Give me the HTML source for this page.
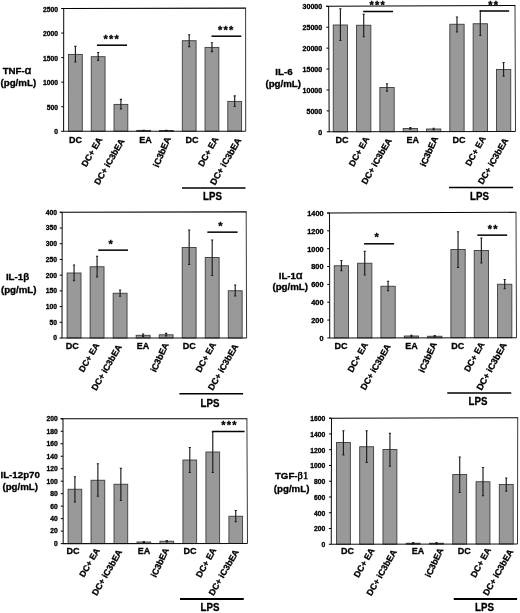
<!DOCTYPE html>
<html lang="en"><head><meta charset="utf-8"><title>Cytokine production figure</title>
<style>
html,body{margin:0;padding:0;background:#fff;}
body{width:520px;height:613px;overflow:hidden;}
svg{display:block;}
text{stroke:#000;stroke-width:0.3px;stroke-linejoin:round;}
</style></head><body>
<svg width="520" height="613" viewBox="0 0 520 613" font-family='"Liberation Sans", sans-serif' font-weight="bold" fill="#000">
<rect x="0" y="0" width="520" height="613" fill="#fff"/>
<g>
<path d="M61.3 8.5L246 8.1" fill="none" stroke="#000" stroke-width="1.1"/>
<path d="M245.6 8.1L245.7 131.2" fill="none" stroke="#222" stroke-width="0.9"/>
<rect x="68.5" y="54.4" width="13.8" height="76.89" fill="#999999" stroke="#3d3d3d" stroke-width="0.9"/>
<path d="M75.4 46.4V62M74.3 46.4H76.5M74.3 62H76.5" stroke="#1c1c1c" stroke-width="1.15" fill="none"/>
<rect x="91.26" y="56.7" width="13.8" height="74.58" fill="#999999" stroke="#3d3d3d" stroke-width="0.9"/>
<path d="M98.16 52.5V60.3M97.06 52.5H99.26M97.06 60.3H99.26" stroke="#1c1c1c" stroke-width="1.15" fill="none"/>
<rect x="114.01" y="104.4" width="13.8" height="26.87" fill="#999999" stroke="#3d3d3d" stroke-width="0.9"/>
<path d="M120.91 99.4V108.8M119.81 99.4H122.01M119.81 108.8H122.01" stroke="#1c1c1c" stroke-width="1.15" fill="none"/>
<rect x="136.77" y="130.4" width="13.8" height="0.86" fill="#999999" stroke="#3d3d3d" stroke-width="0.9"/>
<path d="M143.67 130.2V130.8M142.57 130.2H144.77M142.57 130.8H144.77" stroke="#1c1c1c" stroke-width="1.15" fill="none"/>
<rect x="159.53" y="130.5" width="13.8" height="0.74" fill="#999999" stroke="#3d3d3d" stroke-width="0.9"/>
<path d="M166.43 130.2V130.8M165.33 130.2H167.53M165.33 130.8H167.53" stroke="#1c1c1c" stroke-width="1.15" fill="none"/>
<rect x="182.29" y="40.7" width="13.8" height="90.53" fill="#999999" stroke="#3d3d3d" stroke-width="0.9"/>
<path d="M189.19 34.7V46.6M188.09 34.7H190.29M188.09 46.6H190.29" stroke="#1c1c1c" stroke-width="1.15" fill="none"/>
<rect x="205.04" y="47.4" width="13.8" height="83.82" fill="#999999" stroke="#3d3d3d" stroke-width="0.9"/>
<path d="M211.94 42.7V51.6M210.84 42.7H213.04M210.84 51.6H213.04" stroke="#1c1c1c" stroke-width="1.15" fill="none"/>
<rect x="227.8" y="101.4" width="13.8" height="29.81" fill="#999999" stroke="#3d3d3d" stroke-width="0.9"/>
<path d="M234.7 95.8V106.5M233.6 95.8H235.8M233.6 106.5H235.8" stroke="#1c1c1c" stroke-width="1.15" fill="none"/>
<path d="M63.7 8.5L63.6 131.3L245.7 131.2" stroke="#111" stroke-width="1.05" fill="none" stroke-linejoin="miter"/>
<path d="M61.2 131.3H63.6" stroke="#000" stroke-width="1"/>
<text transform="translate(58.1 134.32) scale(1.07 1)" font-size="6.3" text-anchor="end">0</text>
<path d="M61.22 106.74H63.62" stroke="#000" stroke-width="1"/>
<text transform="translate(58.1 109.76) scale(1.07 1)" font-size="6.3" text-anchor="end">500</text>
<path d="M61.24 82.18H63.64" stroke="#000" stroke-width="1"/>
<text transform="translate(58.1 85.2) scale(1.07 1)" font-size="6.3" text-anchor="end">1000</text>
<path d="M61.26 57.62H63.66" stroke="#000" stroke-width="1"/>
<text transform="translate(58.1 60.64) scale(1.07 1)" font-size="6.3" text-anchor="end">1500</text>
<path d="M61.28 33.06H63.68" stroke="#000" stroke-width="1"/>
<text transform="translate(58.1 36.08) scale(1.07 1)" font-size="6.3" text-anchor="end">2000</text>
<path d="M61.3 8.5H63.7" stroke="#000" stroke-width="1"/>
<text transform="translate(58.1 11.52) scale(1.07 1)" font-size="6.3" text-anchor="end">2500</text>
<text transform="translate(17 74.2) scale(1.07 1)" font-size="9.1" text-anchor="middle">TNF-<tspan font-size="10.6" font-weight="normal" style="stroke-width:0.5px">α</tspan></text>
<text transform="translate(18.3 86.3) scale(1.07 1)" font-size="9.1" text-anchor="middle">(pg/mL)</text>
<path d="M96.9 45.2H127" stroke="#000" stroke-width="1.5"/>
<text x="111.85" y="42.9" font-size="11" text-anchor="middle" letter-spacing="1.2">***</text>
<path d="M211.5 36.2H241.3" stroke="#000" stroke-width="1.5"/>
<text x="226.35" y="33.95" font-size="11" text-anchor="middle" letter-spacing="1.2">***</text>
<text x="75.6" y="143.4" font-size="9" text-anchor="middle">DC</text>
<text x="145.5" y="143.4" font-size="9" text-anchor="middle">EA</text>
<text x="191.9" y="143.4" font-size="9" text-anchor="middle">DC</text>
<text transform="translate(102.62 139.43) rotate(-60)" font-size="8.8" text-anchor="end">DC+ EA</text>
<text transform="translate(124.88 140.88) rotate(-60)" font-size="8.8" text-anchor="end">DC+ iC3bEA</text>
<text transform="translate(171 138.43) rotate(-67)" font-size="9" text-anchor="end">iC3bEA</text>
<text transform="translate(218.75 138.88) rotate(-61)" font-size="8.8" text-anchor="end">DC+ EA</text>
<text transform="translate(241.5 140.05) rotate(-60)" font-size="9" text-anchor="end">DC+ iC3bEA</text>
<path d="M182 188.1H245.5" stroke="#000" stroke-width="1.5"/>
<text transform="translate(212.5 200.15) scale(0.96 1)" font-size="10.1" text-anchor="middle">LPS</text>
</g>
<g>
<path d="M326.2 6.3L515.4 5.5" fill="none" stroke="#000" stroke-width="1.1"/>
<path d="M515 5.5L515.5 131.5" fill="none" stroke="#222" stroke-width="0.9"/>
<rect x="333.25" y="25" width="14.3" height="106.78" fill="#999999" stroke="#3d3d3d" stroke-width="0.9"/>
<path d="M340.4 8.75V40.5M339.3 8.75H341.5M339.3 40.5H341.5" stroke="#1c1c1c" stroke-width="1.15" fill="none"/>
<rect x="356.56" y="25.25" width="14.3" height="106.49" fill="#999999" stroke="#3d3d3d" stroke-width="0.9"/>
<path d="M363.71 14.25V36.75M362.61 14.25H364.81M362.61 36.75H364.81" stroke="#1c1c1c" stroke-width="1.15" fill="none"/>
<rect x="379.88" y="87.5" width="14.3" height="44.21" fill="#999999" stroke="#3d3d3d" stroke-width="0.9"/>
<path d="M387.03 83.75V91.25M385.93 83.75H388.13M385.93 91.25H388.13" stroke="#1c1c1c" stroke-width="1.15" fill="none"/>
<rect x="403.19" y="128.5" width="14.3" height="3.17" fill="#999999" stroke="#3d3d3d" stroke-width="0.9"/>
<path d="M410.34 127.6V129.2M409.24 127.6H411.44M409.24 129.2H411.44" stroke="#1c1c1c" stroke-width="1.15" fill="none"/>
<rect x="426.51" y="129" width="14.3" height="2.63" fill="#999999" stroke="#3d3d3d" stroke-width="0.9"/>
<path d="M433.66 128.2V129.6M432.56 128.2H434.76M432.56 129.6H434.76" stroke="#1c1c1c" stroke-width="1.15" fill="none"/>
<rect x="449.82" y="24.25" width="14.3" height="107.34" fill="#999999" stroke="#3d3d3d" stroke-width="0.9"/>
<path d="M456.97 17V32M455.87 17H458.07M455.87 32H458.07" stroke="#1c1c1c" stroke-width="1.15" fill="none"/>
<rect x="473.14" y="23.75" width="14.3" height="107.81" fill="#999999" stroke="#3d3d3d" stroke-width="0.9"/>
<path d="M480.29 11V35.5M479.19 11H481.39M479.19 35.5H481.39" stroke="#1c1c1c" stroke-width="1.15" fill="none"/>
<rect x="496.45" y="69.5" width="14.3" height="62.02" fill="#999999" stroke="#3d3d3d" stroke-width="0.9"/>
<path d="M503.6 62.5V76.25M502.5 62.5H504.7M502.5 76.25H504.7" stroke="#1c1c1c" stroke-width="1.15" fill="none"/>
<path d="M328.6 6.3L329.2 131.8L515.5 131.5" stroke="#111" stroke-width="1.05" fill="none" stroke-linejoin="miter"/>
<path d="M326.8 131.8H329.2" stroke="#000" stroke-width="1"/>
<text transform="translate(322.2 134.67) scale(1.12 1)" font-size="6.3" text-anchor="end">0</text>
<path d="M326.7 110.88H329.1" stroke="#000" stroke-width="1"/>
<text transform="translate(322.2 113.75) scale(1.12 1)" font-size="6.3" text-anchor="end">5000</text>
<path d="M326.6 89.97H329" stroke="#000" stroke-width="1"/>
<text transform="translate(322.2 92.83) scale(1.12 1)" font-size="6.3" text-anchor="end">10000</text>
<path d="M326.5 69.05H328.9" stroke="#000" stroke-width="1"/>
<text transform="translate(322.2 71.92) scale(1.12 1)" font-size="6.3" text-anchor="end">15000</text>
<path d="M326.4 48.13H328.8" stroke="#000" stroke-width="1"/>
<text transform="translate(322.2 51) scale(1.12 1)" font-size="6.3" text-anchor="end">20000</text>
<path d="M326.3 27.22H328.7" stroke="#000" stroke-width="1"/>
<text transform="translate(322.2 30.08) scale(1.12 1)" font-size="6.3" text-anchor="end">25000</text>
<path d="M326.2 6.3H328.6" stroke="#000" stroke-width="1"/>
<text transform="translate(322.2 9.17) scale(1.12 1)" font-size="6.3" text-anchor="end">30000</text>
<text transform="translate(283.9 74.55) scale(1.07 1)" font-size="9.1" text-anchor="middle">IL-6</text>
<text transform="translate(283.2 86.8) scale(1.07 1)" font-size="9.1" text-anchor="middle">(pg/mL)</text>
<path d="M363.2 11.5H393.05" stroke="#000" stroke-width="1.5"/>
<text x="377.75" y="9.45" font-size="11" text-anchor="middle" letter-spacing="1.2">***</text>
<path d="M480 11H509.2" stroke="#000" stroke-width="1.5"/>
<text x="493.65" y="8.85" font-size="11" text-anchor="middle" letter-spacing="1.2">**</text>
<text x="342.1" y="143.2" font-size="9" text-anchor="middle">DC</text>
<text x="412.8" y="143.2" font-size="9" text-anchor="middle">EA</text>
<text x="458.9" y="143.2" font-size="9" text-anchor="middle">DC</text>
<text transform="translate(369.5 138.7) rotate(-61)" font-size="8.8" text-anchor="end">DC+ EA</text>
<text transform="translate(392.12 140.38) rotate(-60)" font-size="8.8" text-anchor="end">DC+ iC3bEA</text>
<text transform="translate(438.45 137.95) rotate(-66)" font-size="9" text-anchor="end">iC3bEA</text>
<text transform="translate(486 138.25) rotate(-61)" font-size="8.8" text-anchor="end">DC+ EA</text>
<text transform="translate(508.62 140.25) rotate(-60)" font-size="8.8" text-anchor="end">DC+ iC3bEA</text>
<path d="M449 187.6H513.1" stroke="#000" stroke-width="1.5"/>
<text transform="translate(479.5 200.15) scale(0.96 1)" font-size="10.1" text-anchor="middle">LPS</text>
</g>
<g>
<path d="M59.8 212.3L246.6 211.9" fill="none" stroke="#000" stroke-width="1.1"/>
<path d="M246.2 211.9L246.6 338" fill="none" stroke="#222" stroke-width="0.9"/>
<rect x="67.11" y="273" width="13.9" height="65" fill="#999999" stroke="#3d3d3d" stroke-width="0.9"/>
<path d="M74.06 265V280.75M72.96 265H75.16M72.96 280.75H75.16" stroke="#1c1c1c" stroke-width="1.15" fill="none"/>
<rect x="90.13" y="266.75" width="13.9" height="71.25" fill="#999999" stroke="#3d3d3d" stroke-width="0.9"/>
<path d="M97.08 256.25V277M95.98 256.25H98.18M95.98 277H98.18" stroke="#1c1c1c" stroke-width="1.15" fill="none"/>
<rect x="113.15" y="293.25" width="13.9" height="44.75" fill="#999999" stroke="#3d3d3d" stroke-width="0.9"/>
<path d="M120.1 290V296.25M119 290H121.2M119 296.25H121.2" stroke="#1c1c1c" stroke-width="1.15" fill="none"/>
<rect x="136.17" y="335.3" width="13.9" height="2.7" fill="#999999" stroke="#3d3d3d" stroke-width="0.9"/>
<path d="M143.12 334V336.3M142.02 334H144.22M142.02 336.3H144.22" stroke="#1c1c1c" stroke-width="1.15" fill="none"/>
<rect x="159.19" y="334.8" width="13.9" height="3.2" fill="#999999" stroke="#3d3d3d" stroke-width="0.9"/>
<path d="M166.14 333.3V335.9M165.04 333.3H167.24M165.04 335.9H167.24" stroke="#1c1c1c" stroke-width="1.15" fill="none"/>
<rect x="182.21" y="247.5" width="13.9" height="90.5" fill="#999999" stroke="#3d3d3d" stroke-width="0.9"/>
<path d="M189.16 230V264.5M188.06 230H190.26M188.06 264.5H190.26" stroke="#1c1c1c" stroke-width="1.15" fill="none"/>
<rect x="205.23" y="257.5" width="13.9" height="80.5" fill="#999999" stroke="#3d3d3d" stroke-width="0.9"/>
<path d="M212.18 240V275.5M211.08 240H213.28M211.08 275.5H213.28" stroke="#1c1c1c" stroke-width="1.15" fill="none"/>
<rect x="228.25" y="290.75" width="13.9" height="47.25" fill="#999999" stroke="#3d3d3d" stroke-width="0.9"/>
<path d="M235.2 285V296M234.1 285H236.3M234.1 296H236.3" stroke="#1c1c1c" stroke-width="1.15" fill="none"/>
<path d="M62.2 212.3L62 338L246.6 338" stroke="#111" stroke-width="1.05" fill="none" stroke-linejoin="miter"/>
<path d="M59.6 338H62" stroke="#000" stroke-width="1"/>
<text transform="translate(57 340.37) scale(1.07 1)" font-size="6.3" text-anchor="end">0</text>
<path d="M59.62 322.29H62.02" stroke="#000" stroke-width="1"/>
<text transform="translate(57 324.66) scale(1.07 1)" font-size="6.3" text-anchor="end">50</text>
<path d="M59.65 306.57H62.05" stroke="#000" stroke-width="1"/>
<text transform="translate(57 308.94) scale(1.07 1)" font-size="6.3" text-anchor="end">100</text>
<path d="M59.68 290.86H62.08" stroke="#000" stroke-width="1"/>
<text transform="translate(57 293.23) scale(1.07 1)" font-size="6.3" text-anchor="end">150</text>
<path d="M59.7 275.15H62.1" stroke="#000" stroke-width="1"/>
<text transform="translate(57 277.52) scale(1.07 1)" font-size="6.3" text-anchor="end">200</text>
<path d="M59.73 259.44H62.12" stroke="#000" stroke-width="1"/>
<text transform="translate(57 261.81) scale(1.07 1)" font-size="6.3" text-anchor="end">250</text>
<path d="M59.75 243.73H62.15" stroke="#000" stroke-width="1"/>
<text transform="translate(57 246.09) scale(1.07 1)" font-size="6.3" text-anchor="end">300</text>
<path d="M59.78 228.01H62.18" stroke="#000" stroke-width="1"/>
<text transform="translate(57 230.38) scale(1.07 1)" font-size="6.3" text-anchor="end">350</text>
<path d="M59.8 212.3H62.2" stroke="#000" stroke-width="1"/>
<text transform="translate(57 214.67) scale(1.07 1)" font-size="6.3" text-anchor="end">400</text>
<text transform="translate(17.5 280) scale(1.07 1)" font-size="9.1" text-anchor="middle">IL-1β</text>
<text transform="translate(18.7 292.6) scale(1.07 1)" font-size="9.1" text-anchor="middle">(pg/mL)</text>
<path d="M98.2 250.15H128.05" stroke="#000" stroke-width="1.5"/>
<text x="111.3" y="248.05" font-size="11" text-anchor="middle" letter-spacing="1.2">*</text>
<path d="M207.35 232.15H237.6" stroke="#000" stroke-width="1.5"/>
<text x="220.95" y="229.65" font-size="11" text-anchor="middle" letter-spacing="1.2">*</text>
<text x="72.3" y="349" font-size="9" text-anchor="middle">DC</text>
<text x="142.9" y="349" font-size="9" text-anchor="middle">EA</text>
<text x="189.2" y="349" font-size="9" text-anchor="middle">DC</text>
<text transform="translate(99.5 345.12) rotate(-60)" font-size="8.6" text-anchor="end">DC+ EA</text>
<text transform="translate(122.12 346.68) rotate(-60)" font-size="8.8" text-anchor="end">DC+ iC3bEA</text>
<text transform="translate(168.88 344.5) rotate(-65)" font-size="8.8" text-anchor="end">iC3bEA</text>
<text transform="translate(216.25 344.5) rotate(-61)" font-size="8.8" text-anchor="end">DC+ EA</text>
<text transform="translate(238.62 346.25) rotate(-60)" font-size="8.8" text-anchor="end">DC+ iC3bEA</text>
<path d="M179.4 393.75H243.1" stroke="#000" stroke-width="1.5"/>
<text transform="translate(210 406.5) scale(0.96 1)" font-size="10.1" text-anchor="middle">LPS</text>
</g>
<g>
<path d="M327.1 213L516.4 212.3" fill="none" stroke="#000" stroke-width="1.1"/>
<path d="M516 212.3L516.5 337.7" fill="none" stroke="#222" stroke-width="0.9"/>
<rect x="334.25" y="265.75" width="14.3" height="72.14" fill="#999999" stroke="#3d3d3d" stroke-width="0.9"/>
<path d="M341.4 260.5V270.75M340.3 260.5H342.5M340.3 270.75H342.5" stroke="#1c1c1c" stroke-width="1.15" fill="none"/>
<rect x="357.58" y="263.25" width="14.3" height="74.61" fill="#999999" stroke="#3d3d3d" stroke-width="0.9"/>
<path d="M364.73 251.25V275M363.63 251.25H365.83M363.63 275H365.83" stroke="#1c1c1c" stroke-width="1.15" fill="none"/>
<rect x="380.91" y="286.25" width="14.3" height="51.59" fill="#999999" stroke="#3d3d3d" stroke-width="0.9"/>
<path d="M388.06 281.25V290.75M386.96 281.25H389.16M386.96 290.75H389.16" stroke="#1c1c1c" stroke-width="1.15" fill="none"/>
<rect x="404.24" y="336" width="14.3" height="1.81" fill="#999999" stroke="#3d3d3d" stroke-width="0.9"/>
<path d="M411.39 335.3V336.7M410.29 335.3H412.49M410.29 336.7H412.49" stroke="#1c1c1c" stroke-width="1.15" fill="none"/>
<rect x="427.56" y="336.25" width="14.3" height="1.54" fill="#999999" stroke="#3d3d3d" stroke-width="0.9"/>
<path d="M434.71 335.5V336.9M433.61 335.5H435.81M433.61 336.9H435.81" stroke="#1c1c1c" stroke-width="1.15" fill="none"/>
<rect x="450.89" y="249.5" width="14.3" height="88.26" fill="#999999" stroke="#3d3d3d" stroke-width="0.9"/>
<path d="M458.04 231.75V267.5M456.94 231.75H459.14M456.94 267.5H459.14" stroke="#1c1c1c" stroke-width="1.15" fill="none"/>
<rect x="474.22" y="250.5" width="14.3" height="87.24" fill="#999999" stroke="#3d3d3d" stroke-width="0.9"/>
<path d="M481.37 238V263M480.27 238H482.47M480.27 263H482.47" stroke="#1c1c1c" stroke-width="1.15" fill="none"/>
<rect x="497.55" y="284.25" width="14.3" height="53.46" fill="#999999" stroke="#3d3d3d" stroke-width="0.9"/>
<path d="M504.7 279.5V288.75M503.6 279.5H505.8M503.6 288.75H505.8" stroke="#1c1c1c" stroke-width="1.15" fill="none"/>
<path d="M329.5 213L329.75 337.9L516.5 337.7" stroke="#111" stroke-width="1.05" fill="none" stroke-linejoin="miter"/>
<path d="M327.35 337.9H329.75" stroke="#000" stroke-width="1"/>
<text transform="translate(323.5 340.77) scale(1.16 1)" font-size="6.3" text-anchor="end">0</text>
<path d="M327.31 320.06H329.71" stroke="#000" stroke-width="1"/>
<text transform="translate(323.5 322.93) scale(1.16 1)" font-size="6.3" text-anchor="end">200</text>
<path d="M327.28 302.21H329.68" stroke="#000" stroke-width="1"/>
<text transform="translate(323.5 305.08) scale(1.16 1)" font-size="6.3" text-anchor="end">400</text>
<path d="M327.24 284.37H329.64" stroke="#000" stroke-width="1"/>
<text transform="translate(323.5 287.24) scale(1.16 1)" font-size="6.3" text-anchor="end">600</text>
<path d="M327.21 266.53H329.61" stroke="#000" stroke-width="1"/>
<text transform="translate(323.5 269.4) scale(1.16 1)" font-size="6.3" text-anchor="end">800</text>
<path d="M327.17 248.69H329.57" stroke="#000" stroke-width="1"/>
<text transform="translate(323.5 251.55) scale(1.16 1)" font-size="6.3" text-anchor="end">1000</text>
<path d="M327.14 230.84H329.54" stroke="#000" stroke-width="1"/>
<text transform="translate(323.5 233.71) scale(1.16 1)" font-size="6.3" text-anchor="end">1200</text>
<path d="M327.1 213H329.5" stroke="#000" stroke-width="1"/>
<text transform="translate(323.5 215.87) scale(1.16 1)" font-size="6.3" text-anchor="end">1400</text>
<text transform="translate(290.6 278.6) scale(1.07 1)" font-size="9.1" text-anchor="middle">IL-1<tspan font-size="10.6" font-weight="normal" style="stroke-width:0.5px">α</tspan></text>
<text transform="translate(290.2 289.75) scale(1.07 1)" font-size="9.1" text-anchor="middle">(pg/mL)</text>
<path d="M364.1 243.8H394.1" stroke="#000" stroke-width="1.5"/>
<text x="377.3" y="241.45" font-size="11" text-anchor="middle" letter-spacing="1.2">*</text>
<path d="M477.35 235.15H507.2" stroke="#000" stroke-width="1.5"/>
<text x="493.25" y="232.9" font-size="11" text-anchor="middle" letter-spacing="1.2">**</text>
<text x="341" y="348.8" font-size="9" text-anchor="middle">DC</text>
<text x="411.6" y="348.8" font-size="9" text-anchor="middle">EA</text>
<text x="457.8" y="348.8" font-size="9" text-anchor="middle">DC</text>
<text transform="translate(368.25 344.5) rotate(-61)" font-size="8.8" text-anchor="end">DC+ EA</text>
<text transform="translate(391 346.18) rotate(-60)" font-size="8.8" text-anchor="end">DC+ iC3bEA</text>
<text transform="translate(437.05 343.88) rotate(-66)" font-size="9" text-anchor="end">iC3bEA</text>
<text transform="translate(484.75 344.12) rotate(-61)" font-size="8.8" text-anchor="end">DC+ EA</text>
<text transform="translate(507 344.92) rotate(-61)" font-size="9" text-anchor="end">DC+ iC3bEA</text>
<path d="M447.25 393.1H511.25" stroke="#000" stroke-width="1.5"/>
<text transform="translate(478 405.4) scale(0.96 1)" font-size="10.1" text-anchor="middle">LPS</text>
</g>
<g>
<path d="M60.6 418.8L247.3 418.7" fill="none" stroke="#000" stroke-width="1.1"/>
<path d="M246.9 418.7L247.5 543.4" fill="none" stroke="#222" stroke-width="0.9"/>
<rect x="68.05" y="489.25" width="13.7" height="54.34" fill="#999999" stroke="#3d3d3d" stroke-width="0.9"/>
<path d="M74.9 476.75V502M73.8 476.75H76M73.8 502H76" stroke="#1c1c1c" stroke-width="1.15" fill="none"/>
<rect x="91.03" y="480.25" width="13.7" height="63.31" fill="#999999" stroke="#3d3d3d" stroke-width="0.9"/>
<path d="M97.88 463.75V496.25M96.78 463.75H98.98M96.78 496.25H98.98" stroke="#1c1c1c" stroke-width="1.15" fill="none"/>
<rect x="114.01" y="484.25" width="13.7" height="59.29" fill="#999999" stroke="#3d3d3d" stroke-width="0.9"/>
<path d="M120.86 468.25V500.5M119.76 468.25H121.96M119.76 500.5H121.96" stroke="#1c1c1c" stroke-width="1.15" fill="none"/>
<rect x="136.99" y="542" width="13.7" height="1.51" fill="#999999" stroke="#3d3d3d" stroke-width="0.9"/>
<path d="M143.84 541.5V542.6M142.74 541.5H144.94M142.74 542.6H144.94" stroke="#1c1c1c" stroke-width="1.15" fill="none"/>
<rect x="159.96" y="541.25" width="13.7" height="2.24" fill="#999999" stroke="#3d3d3d" stroke-width="0.9"/>
<path d="M166.81 540.5V542M165.71 540.5H167.91M165.71 542H167.91" stroke="#1c1c1c" stroke-width="1.15" fill="none"/>
<rect x="182.94" y="460" width="13.7" height="83.46" fill="#999999" stroke="#3d3d3d" stroke-width="0.9"/>
<path d="M189.79 447.5V472.5M188.69 447.5H190.89M188.69 472.5H190.89" stroke="#1c1c1c" stroke-width="1.15" fill="none"/>
<rect x="205.92" y="452" width="13.7" height="91.44" fill="#999999" stroke="#3d3d3d" stroke-width="0.9"/>
<path d="M212.77 431.75V472.5M211.67 431.75H213.87M211.67 472.5H213.87" stroke="#1c1c1c" stroke-width="1.15" fill="none"/>
<rect x="228.9" y="516.25" width="13.7" height="27.16" fill="#999999" stroke="#3d3d3d" stroke-width="0.9"/>
<path d="M235.75 510.5V521.75M234.65 510.5H236.85M234.65 521.75H236.85" stroke="#1c1c1c" stroke-width="1.15" fill="none"/>
<path d="M63 418.8L63.2 543.6L247.5 543.4" stroke="#111" stroke-width="1.05" fill="none" stroke-linejoin="miter"/>
<path d="M60.8 543.6H63.2" stroke="#000" stroke-width="1"/>
<text transform="translate(57.8 545.97) scale(1.07 1)" font-size="6.3" text-anchor="end">0</text>
<path d="M60.78 531.12H63.18" stroke="#000" stroke-width="1"/>
<text transform="translate(57.8 533.49) scale(1.07 1)" font-size="6.3" text-anchor="end">20</text>
<path d="M60.76 518.64H63.16" stroke="#000" stroke-width="1"/>
<text transform="translate(57.8 521.01) scale(1.07 1)" font-size="6.3" text-anchor="end">40</text>
<path d="M60.74 506.16H63.14" stroke="#000" stroke-width="1"/>
<text transform="translate(57.8 508.53) scale(1.07 1)" font-size="6.3" text-anchor="end">60</text>
<path d="M60.72 493.68H63.12" stroke="#000" stroke-width="1"/>
<text transform="translate(57.8 496.05) scale(1.07 1)" font-size="6.3" text-anchor="end">80</text>
<path d="M60.7 481.2H63.1" stroke="#000" stroke-width="1"/>
<text transform="translate(57.8 483.57) scale(1.07 1)" font-size="6.3" text-anchor="end">100</text>
<path d="M60.68 468.72H63.08" stroke="#000" stroke-width="1"/>
<text transform="translate(57.8 471.09) scale(1.07 1)" font-size="6.3" text-anchor="end">120</text>
<path d="M60.66 456.24H63.06" stroke="#000" stroke-width="1"/>
<text transform="translate(57.8 458.61) scale(1.07 1)" font-size="6.3" text-anchor="end">140</text>
<path d="M60.64 443.76H63.04" stroke="#000" stroke-width="1"/>
<text transform="translate(57.8 446.13) scale(1.07 1)" font-size="6.3" text-anchor="end">160</text>
<path d="M60.62 431.28H63.02" stroke="#000" stroke-width="1"/>
<text transform="translate(57.8 433.65) scale(1.07 1)" font-size="6.3" text-anchor="end">180</text>
<path d="M60.6 418.8H63" stroke="#000" stroke-width="1"/>
<text transform="translate(57.8 421.17) scale(1.07 1)" font-size="6.3" text-anchor="end">200</text>
<text transform="translate(20.2 478.4) scale(1.07 1)" font-size="9.1" text-anchor="middle">IL-12p70</text>
<text transform="translate(20.2 490.4) scale(1.07 1)" font-size="9.1" text-anchor="middle">(pg/mL)</text>
<path d="M212.3 431.5H244.6" stroke="#000" stroke-width="1.5"/>
<text x="229.55" y="429.05" font-size="11" text-anchor="middle" letter-spacing="1.2">***</text>
<text x="72.9" y="554.3" font-size="9" text-anchor="middle">DC</text>
<text x="143.9" y="554.3" font-size="9" text-anchor="middle">EA</text>
<text x="189.9" y="554.3" font-size="9" text-anchor="middle">DC</text>
<text transform="translate(100 550.25) rotate(-60)" font-size="8.6" text-anchor="end">DC+ EA</text>
<text transform="translate(122.5 551.67) rotate(-60)" font-size="8.8" text-anchor="end">DC+ iC3bEA</text>
<text transform="translate(169.2 549.62) rotate(-65)" font-size="8.8" text-anchor="end">iC3bEA</text>
<text transform="translate(216.62 549.92) rotate(-61)" font-size="8.8" text-anchor="end">DC+ EA</text>
<text transform="translate(239.25 551.62) rotate(-60)" font-size="8.8" text-anchor="end">DC+ iC3bEA</text>
<path d="M180 598.9H243.75" stroke="#000" stroke-width="2"/>
<text transform="translate(210 611.2) scale(0.96 1)" font-size="10.1" text-anchor="middle">LPS</text>
</g>
<g>
<path d="M329.1 418.2L518.1 417.7" fill="none" stroke="#000" stroke-width="1.1"/>
<path d="M517.7 417.7L517.5 544" fill="none" stroke="#222" stroke-width="0.9"/>
<rect x="336.45" y="442.5" width="13.9" height="101.73" fill="#999999" stroke="#3d3d3d" stroke-width="0.9"/>
<path d="M343.4 430.75V455M342.3 430.75H344.5M342.3 455H344.5" stroke="#1c1c1c" stroke-width="1.15" fill="none"/>
<rect x="359.71" y="446.75" width="13.9" height="97.45" fill="#999999" stroke="#3d3d3d" stroke-width="0.9"/>
<path d="M366.66 430.75V462.5M365.56 430.75H367.76M365.56 462.5H367.76" stroke="#1c1c1c" stroke-width="1.15" fill="none"/>
<rect x="382.98" y="449.5" width="13.9" height="94.67" fill="#999999" stroke="#3d3d3d" stroke-width="0.9"/>
<path d="M389.93 433.25V466.25M388.83 433.25H391.03M388.83 466.25H391.03" stroke="#1c1c1c" stroke-width="1.15" fill="none"/>
<rect x="406.24" y="543.25" width="13.9" height="0.89" fill="#999999" stroke="#3d3d3d" stroke-width="0.9"/>
<path d="M413.19 542.6V543.8M412.09 542.6H414.29M412.09 543.8H414.29" stroke="#1c1c1c" stroke-width="1.15" fill="none"/>
<rect x="429.51" y="543.25" width="13.9" height="0.86" fill="#999999" stroke="#3d3d3d" stroke-width="0.9"/>
<path d="M436.46 542.6V543.8M435.36 542.6H437.56M435.36 543.8H437.56" stroke="#1c1c1c" stroke-width="1.15" fill="none"/>
<rect x="452.77" y="474.5" width="13.9" height="69.58" fill="#999999" stroke="#3d3d3d" stroke-width="0.9"/>
<path d="M459.72 457V492.5M458.62 457H460.82M458.62 492.5H460.82" stroke="#1c1c1c" stroke-width="1.15" fill="none"/>
<rect x="476.04" y="481.75" width="13.9" height="62.3" fill="#999999" stroke="#3d3d3d" stroke-width="0.9"/>
<path d="M482.99 467.5V495.75M481.89 467.5H484.09M481.89 495.75H484.09" stroke="#1c1c1c" stroke-width="1.15" fill="none"/>
<rect x="499.3" y="484.5" width="13.9" height="59.52" fill="#999999" stroke="#3d3d3d" stroke-width="0.9"/>
<path d="M506.25 478V491.25M505.15 478H507.35M505.15 491.25H507.35" stroke="#1c1c1c" stroke-width="1.15" fill="none"/>
<path d="M331.5 418.2L331.25 544.25L517.5 544" stroke="#111" stroke-width="1.05" fill="none" stroke-linejoin="miter"/>
<path d="M328.85 544.25H331.25" stroke="#000" stroke-width="1"/>
<text transform="translate(325.2 547.12) scale(1.07 1)" font-size="6.3" text-anchor="end">0</text>
<path d="M328.88 528.49H331.28" stroke="#000" stroke-width="1"/>
<text transform="translate(325.2 531.36) scale(1.07 1)" font-size="6.3" text-anchor="end">200</text>
<path d="M328.91 512.74H331.31" stroke="#000" stroke-width="1"/>
<text transform="translate(325.2 515.61) scale(1.07 1)" font-size="6.3" text-anchor="end">400</text>
<path d="M328.94 496.98H331.34" stroke="#000" stroke-width="1"/>
<text transform="translate(325.2 499.85) scale(1.07 1)" font-size="6.3" text-anchor="end">600</text>
<path d="M328.98 481.23H331.38" stroke="#000" stroke-width="1"/>
<text transform="translate(325.2 484.09) scale(1.07 1)" font-size="6.3" text-anchor="end">800</text>
<path d="M329.01 465.47H331.41" stroke="#000" stroke-width="1"/>
<text transform="translate(325.2 468.34) scale(1.07 1)" font-size="6.3" text-anchor="end">1000</text>
<path d="M329.04 449.71H331.44" stroke="#000" stroke-width="1"/>
<text transform="translate(325.2 452.58) scale(1.07 1)" font-size="6.3" text-anchor="end">1200</text>
<path d="M329.07 433.96H331.47" stroke="#000" stroke-width="1"/>
<text transform="translate(325.2 436.82) scale(1.07 1)" font-size="6.3" text-anchor="end">1400</text>
<path d="M329.1 418.2H331.5" stroke="#000" stroke-width="1"/>
<text transform="translate(325.2 421.07) scale(1.07 1)" font-size="6.3" text-anchor="end">1600</text>
<text transform="translate(291.5 479.4) scale(1.07 1)" font-size="9.1" text-anchor="middle">TGF-<tspan font-family='"Liberation Serif", serif' font-size="9.7" font-weight="normal" style="stroke-width:0.45px">β1</tspan></text>
<text transform="translate(291.6 491.8) scale(1.07 1)" font-size="9.1" text-anchor="middle">(pg/mL)</text>
<text x="347.6" y="554.3" font-size="9" text-anchor="middle">DC</text>
<text x="417.9" y="554.3" font-size="9" text-anchor="middle">EA</text>
<text x="464.2" y="554.3" font-size="9" text-anchor="middle">DC</text>
<text transform="translate(374.88 550.17) rotate(-60)" font-size="8.8" text-anchor="end">DC+ EA</text>
<text transform="translate(397.12 551.8) rotate(-60)" font-size="8.8" text-anchor="end">DC+ iC3bEA</text>
<text transform="translate(443.58 549.62) rotate(-65)" font-size="8.8" text-anchor="end">iC3bEA</text>
<text transform="translate(491.25 549.75) rotate(-61)" font-size="8.8" text-anchor="end">DC+ EA</text>
<text transform="translate(513.62 551.5) rotate(-60)" font-size="8.8" text-anchor="end">DC+ iC3bEA</text>
<path d="M453.75 598.9H517.1" stroke="#000" stroke-width="2"/>
<text transform="translate(484.5 611.1) scale(0.96 1)" font-size="10.1" text-anchor="middle">LPS</text>
</g>
</svg>
</body></html>
